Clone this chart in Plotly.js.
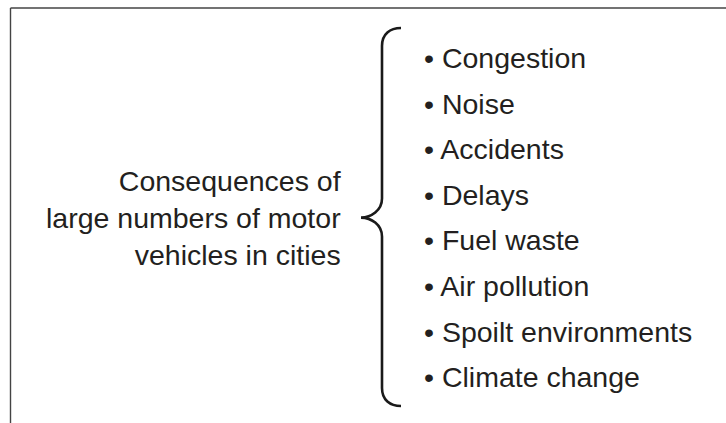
<!DOCTYPE html>
<html>
<head>
<meta charset="utf-8">
<script src="https://cdn.plot.ly/plotly-3.0.1.min.js"></script>
<style>html,body{margin:0;padding:0;background:#fff;}#chart{width:726px;height:423px;}</style>
</head>
<body>
<div id="chart"></div>
<script>
// Diagram content
var items = ["Congestion", "Noise", "Accidents", "Delays", "Fuel waste", "Air pollution", "Spoilt environments", "Climate change"];
var leftLines = ["Consequences of", "large numbers of motor", "vehicles in cities"];

// Layout geometry (axis units = pixels)
var W = 726, H = 423;
var itemX = 422, itemTop = 58, itemStep = 45.6;
var leftX = 343;
var midY = itemTop + itemStep * (items.length - 1) / 2;
var braceX = 382, braceTip = 361, braceTop = 28, braceBot = 406, braceEnd = 401;
var textColor = "#231f20";
var fontFam = "'Liberation Sans', Arial, Helvetica, sans-serif";

var annotations = items.map(function (t, i) {
  return {
    x: itemX, y: itemTop + i * itemStep, xref: "x", yref: "y",
    text: "\u2022 " + t, showarrow: false, xanchor: "left", yanchor: "middle",
    font: {family: fontFam, size: 28.5, color: textColor}
  };
});
annotations.push({
  x: leftX, y: midY, xref: "x", yref: "y",
  text: leftLines.join("<br>"), showarrow: false, xanchor: "right", yanchor: "middle", align: "right",
  font: {family: fontFam, size: 28.5, color: textColor}
});

var bracePath =
  "M " + braceEnd + " " + braceTop +
  " C " + (braceX + 8) + " " + braceTop + " " + braceX + " " + (braceTop + 6) + " " + braceX + " " + (braceTop + 18) +
  " L " + braceX + " " + (midY - 19) +
  " C " + braceX + " " + (midY - 7) + " " + (braceTip + 10) + " " + midY + " " + braceTip + " " + midY +
  " C " + (braceTip + 10) + " " + midY + " " + braceX + " " + (midY + 7) + " " + braceX + " " + (midY + 19) +
  " L " + braceX + " " + (braceBot - 18) +
  " C " + braceX + " " + (braceBot - 6) + " " + (braceX + 8) + " " + braceBot + " " + braceEnd + " " + braceBot;

var shapes = [
  {type: "line", xref: "x", yref: "y", x0: 10.5, y0: 8, x1: W, y1: 8, line: {color: "#444444", width: 1.4}},
  {type: "line", xref: "x", yref: "y", x0: 10.5, y0: 8, x1: 10.5, y1: H, line: {color: "#444444", width: 1.4}},
  {type: "path", xref: "x", yref: "y", path: bracePath, line: {color: "#1a1a1a", width: 2.6}}
];

var layout = {
  width: W, height: H,
  margin: {l: 0, r: 0, t: 0, b: 0, pad: 0},
  paper_bgcolor: "#ffffff", plot_bgcolor: "#ffffff",
  xaxis: {range: [0, W], visible: false, fixedrange: true},
  yaxis: {range: [H, 0], visible: false, fixedrange: true},
  showlegend: false,
  annotations: annotations,
  shapes: shapes
};

Plotly.newPlot("chart", [{x: [], y: [], type: "scatter", mode: "markers", hoverinfo: "skip"}], layout, {staticPlot: true, displayModeBar: false});
</script>
</body>
</html>
